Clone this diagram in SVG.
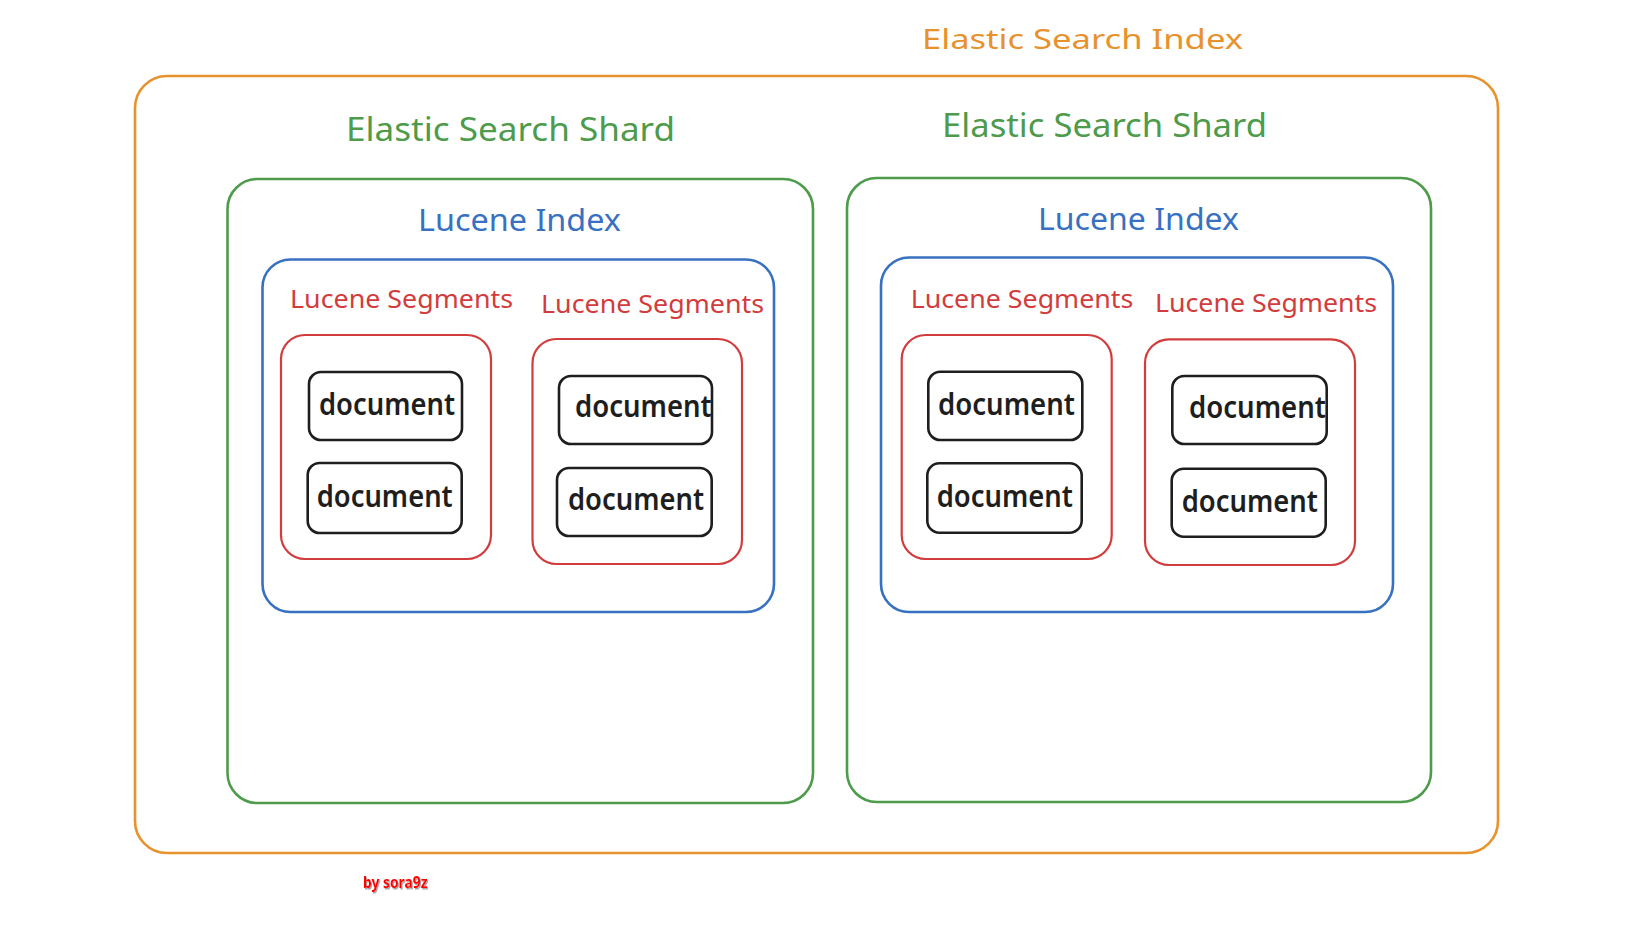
<svg xmlns="http://www.w3.org/2000/svg" width="1642" height="936" viewBox="0 0 1642 936">
<defs>
<style>
.box{fill:none;stroke-linecap:round;stroke-linejoin:round}
.idx{stroke:#e8922e;stroke-width:2.6}
.shard{stroke:#4d9b4b;stroke-width:2.6}
.lidx{stroke:#3871c1;stroke-width:2.6}
.seg{stroke:#d23c3c;stroke-width:2.2}
.doc{stroke:#1e1e1e;stroke-width:2.6}
.t{font-family:"Noto Sans","Liberation Sans",sans-serif}
.tIdx{fill:#e8922e;font-size:28px}
.tShard{fill:#4d9b4b;font-size:32px}
.tLidx{fill:#3871c1;font-size:30px}
.tSeg{fill:#d23c3c;font-size:26px}
.tDoc{fill:#1e1e1e;font-size:31px;font-weight:600}
.sig{font-family:"Noto Sans","Liberation Sans",sans-serif;font-weight:bold;font-size:16px;fill:#ff0000}
</style>
<filter id="shadow" x="-10%" y="-30%" width="130%" height="170%">
<feDropShadow dx="1" dy="1.5" stdDeviation="0.6" flood-color="#9a9a9a" flood-opacity="0.9"/>
</filter>
</defs>
<rect width="1642" height="936" fill="#ffffff"/>

<g id="es-index">
<rect class="box idx" x="135" y="76" width="1363" height="777" rx="32"/>
<text class="t tIdx" x="922" y="49" textLength="321" lengthAdjust="spacingAndGlyphs">Elastic Search Index</text>
</g>

<g id="shard-1">
<rect class="box shard" x="227.5" y="179" width="585.5" height="624" rx="30"/>
<text class="t tShard" x="346" y="141" textLength="329" lengthAdjust="spacingAndGlyphs">Elastic Search Shard</text>
</g>
<g id="shard-2">
<rect class="box shard" x="847" y="178" width="584" height="624" rx="30"/>
<text class="t tShard" x="942" y="137" textLength="325" lengthAdjust="spacingAndGlyphs">Elastic Search Shard</text>
</g>

<g id="lucene-index-1">
<rect class="box lidx" x="262.5" y="259.5" width="511.5" height="352.5" rx="28"/>
<text class="t tLidx" x="418" y="231" textLength="203" lengthAdjust="spacingAndGlyphs">Lucene Index</text>
</g>
<g id="lucene-index-2">
<rect class="box lidx" x="881" y="257.5" width="512" height="354.5" rx="28"/>
<text class="t tLidx" x="1038" y="230" textLength="201" lengthAdjust="spacingAndGlyphs">Lucene Index</text>
</g>

<g id="segment-1">
<rect class="box seg" x="281" y="335" width="210" height="224" rx="24"/>
<text class="t tSeg" x="290" y="308" textLength="223" lengthAdjust="spacingAndGlyphs">Lucene Segments</text>
</g>
<g id="segment-2">
<rect class="box seg" x="532.5" y="339" width="209.5" height="225" rx="24"/>
<text class="t tSeg" x="541" y="312.5" textLength="223" lengthAdjust="spacingAndGlyphs">Lucene Segments</text>
</g>
<g id="segment-3">
<rect class="box seg" x="901.7" y="335" width="210" height="224" rx="24"/>
<text class="t tSeg" x="910.7" y="308" textLength="222.6" lengthAdjust="spacingAndGlyphs">Lucene Segments</text>
</g>
<g id="segment-4">
<rect class="box seg" x="1145" y="339.3" width="210" height="225.7" rx="24"/>
<text class="t tSeg" x="1155" y="311.7" textLength="222" lengthAdjust="spacingAndGlyphs">Lucene Segments</text>
</g>

<g id="doc-1">
<rect class="box doc" x="309" y="372" width="153" height="68" rx="12"/>
<text class="t tDoc" x="319" y="415" textLength="136" lengthAdjust="spacingAndGlyphs">document</text>
</g>
<g id="doc-2">
<rect class="box doc" x="307.7" y="463" width="154" height="70" rx="12"/>
<text class="t tDoc" x="316.7" y="506.7" textLength="136" lengthAdjust="spacingAndGlyphs">document</text>
</g>
<g id="doc-3">
<rect class="box doc" x="559" y="376" width="153" height="68" rx="12"/>
<text class="t tDoc" x="575" y="416.7" textLength="136.7" lengthAdjust="spacingAndGlyphs">document</text>
</g>
<g id="doc-4">
<rect class="box doc" x="557" y="468" width="154.7" height="68" rx="12"/>
<text class="t tDoc" x="568" y="510" textLength="136" lengthAdjust="spacingAndGlyphs">document</text>
</g>
<g id="doc-5">
<rect class="box doc" x="928.3" y="371.7" width="154" height="68.3" rx="12"/>
<text class="t tDoc" x="938" y="415" textLength="137" lengthAdjust="spacingAndGlyphs">document</text>
</g>
<g id="doc-6">
<rect class="box doc" x="927.3" y="463.3" width="154.4" height="69.4" rx="12"/>
<text class="t tDoc" x="936.7" y="506.7" textLength="136.3" lengthAdjust="spacingAndGlyphs">document</text>
</g>
<g id="doc-7">
<rect class="box doc" x="1172.3" y="376" width="154.4" height="68" rx="12"/>
<text class="t tDoc" x="1189" y="418.3" textLength="137" lengthAdjust="spacingAndGlyphs">document</text>
</g>
<g id="doc-8">
<rect class="box doc" x="1171.7" y="468.7" width="154" height="68" rx="12"/>
<text class="t tDoc" x="1181.7" y="511.7" textLength="136.3" lengthAdjust="spacingAndGlyphs">document</text>
</g>

<g id="connectors"></g>

<g id="signature">
<text class="sig" x="363" y="888" textLength="64.5" lengthAdjust="spacingAndGlyphs" filter="url(#shadow)">by sora9z</text>
</g>
</svg>
